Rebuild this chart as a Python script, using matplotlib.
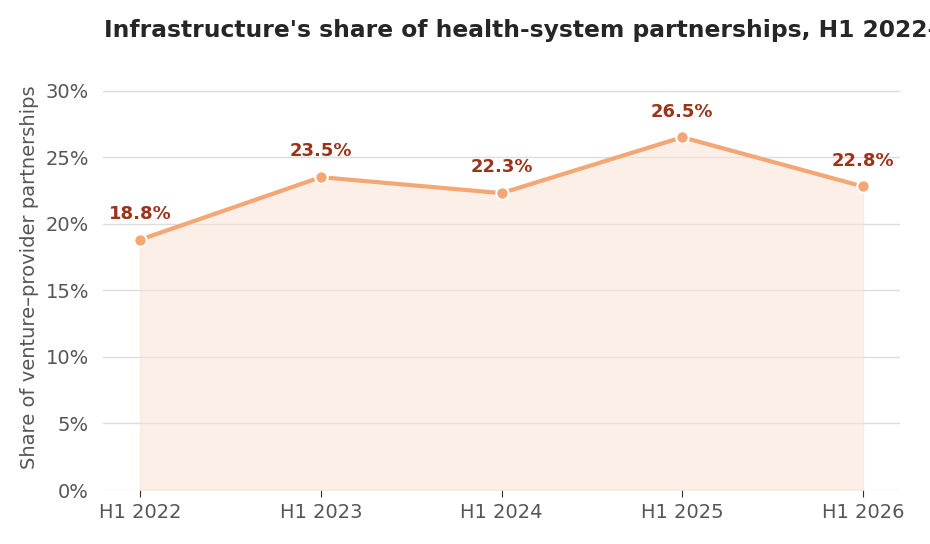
import matplotlib
matplotlib.use("Agg")
import matplotlib.pyplot as plt
import numpy as np

# data
periods = ["H1 2022", "H1 2023", "H1 2024", "H1 2025", "H1 2026"]
share = [18.8, 23.5, 22.3, 26.5, 22.8]
yticks = [0, 5, 10, 15, 20, 25, 30]

line_c = "#F4A674"
fill_c = "#FAE3D6"
lab_c = "#99341A"
txt_c = "#555555"
grid_c = "#DDDDDD"

fig = plt.figure(figsize=(9.3, 5.44), dpi=100)
ax = fig.add_axes([103 / 930, 1 - 490 / 544, 797 / 930, 426 / 544])

x = np.arange(len(periods))
ax.fill_between(x, 0, share, color=fill_c, alpha=0.55, lw=1, edgecolor="#F8E0D0", zorder=1)
ax.plot(x, share, color=line_c, lw=3, zorder=3)
ax.scatter(x, share, s=80, color=line_c, edgecolor="white", linewidth=1.5, zorder=4)

for xi, v in zip(x, share):
    ax.annotate(f"{v:.1f}%", (xi, v), xytext=(0, 12), textcoords="offset points",
                ha="center", va="bottom", color=lab_c, fontsize=13, fontweight="bold")

ax.set_xlim(-0.205, len(periods) - 1 + 0.205)
ax.set_ylim(0, 32)
ax.set_xticks(x)
ax.set_xticklabels(periods)
ax.set_yticks(yticks)
ax.set_yticklabels([f"{t}%" for t in yticks])
ax.tick_params(axis="both", colors=txt_c, labelsize=14)
ax.tick_params(axis="y", length=0, pad=10)
ax.tick_params(axis="x", length=5, color="#333333", pad=4)
ax.grid(axis="y", color=grid_c, lw=1, zorder=0)
ax.set_axisbelow(True)
for s in ["left", "right", "top", "bottom"]:
    ax.spines[s].set_visible(False)

ax.set_ylabel("Share of venture–provider partnerships", color=txt_c, fontsize=14, labelpad=4.5)

# title runs past the right edge, as in the reference
fig.text(104 / 930, 1 - 31 / 544, "Infrastructure's share of health-system partnerships, H1 2022–2026",
         ha="left", va="center", fontsize=16.8, fontweight="bold", color="#262626")

fig.savefig("out.png", dpi=100, facecolor="white")
